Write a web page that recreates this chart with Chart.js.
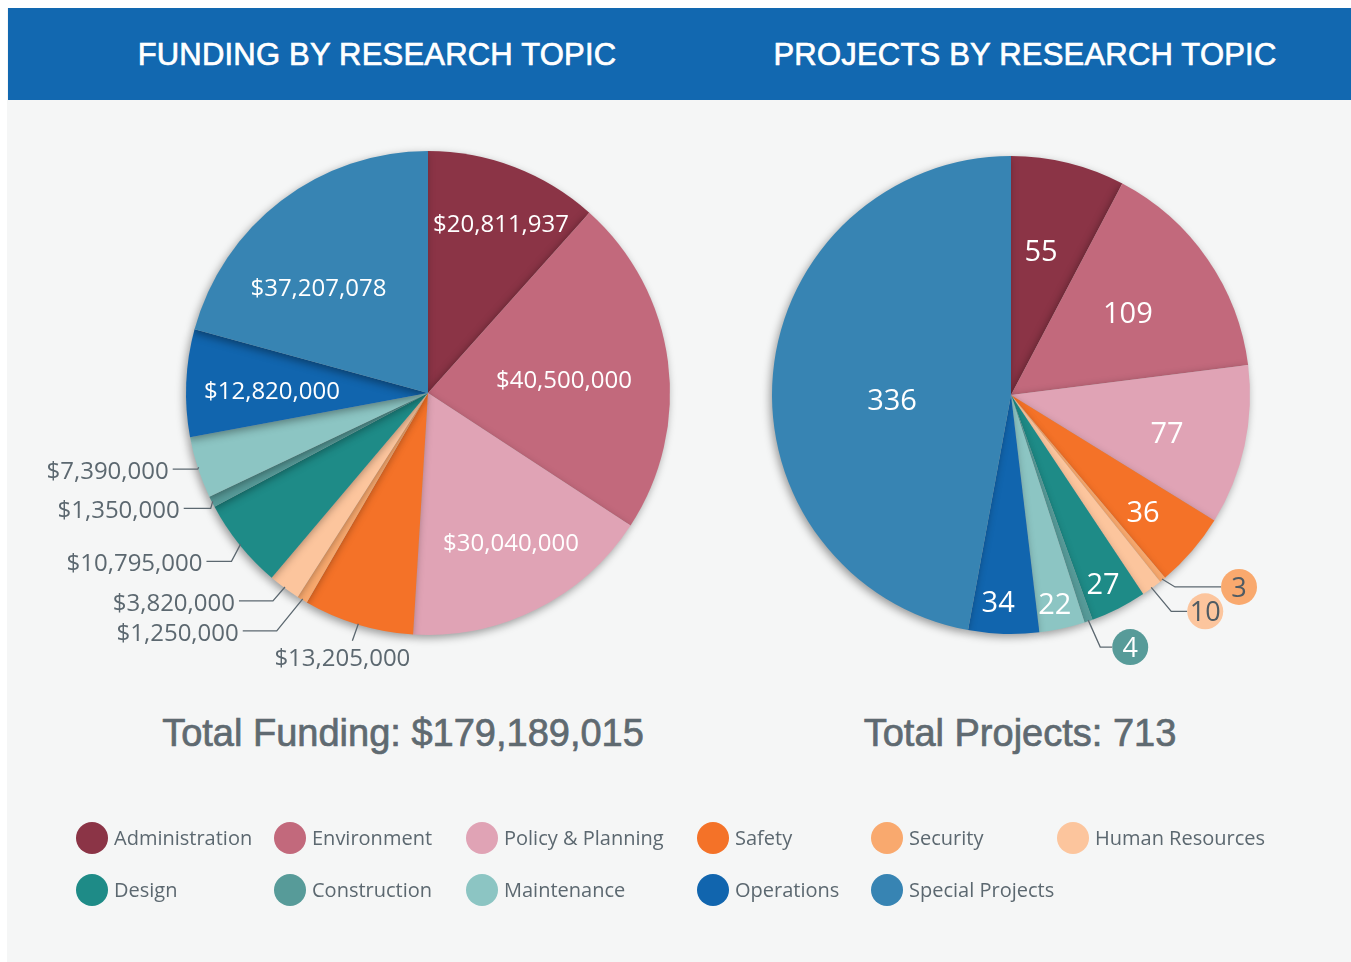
<!DOCTYPE html>
<html>
<head>
<meta charset="utf-8">
<script src="https://cdn.jsdelivr.net/npm/chart.js@4.4.1/dist/chart.umd.min.js"></script>
<style>
  body { margin: 0; background: #ffffff; width: 1351px; height: 962px; overflow: hidden; position: relative; }
  #frame { position: absolute; left: 7px; top: 8px; width: 1344px; height: 954px; background: #f5f6f6; }
  #header { position: absolute; left: 1px; top: 0; width: 1343px; height: 92px; background: #1268b0; }
  .title { position: absolute; top: 8px; height: 92px; line-height: 94px; color: #ffffff;
           font-family: "Liberation Sans", Arial, sans-serif; font-size: 31px; text-align: center;
           letter-spacing: 0.2px; -webkit-text-stroke: 0.7px #ffffff; }
  .total { position: absolute; top: 712px; color: #5f6a71; font-family: "Liberation Sans", Arial, sans-serif;
           font-size: 38px; text-align: center; -webkit-text-stroke: 0.7px #5f6a71; }
  canvas { position: absolute; left: 0; top: 0; }
  #legend { position: absolute; left: 76px; top: 822px; display: grid;
            grid-template-columns: 198px 192px 231px 174px 186px 260px; grid-auto-rows: 52px; }
  .item { display: flex; align-items: flex-start; font-family: "Open Sans", sans-serif; font-size: 20px; color: #5c6870; }
  .dot { width: 32px; height: 32px; border-radius: 50%; margin-right: 6px; flex: none; }
  .item span { line-height: 31px; }
</style>
</head>
<body>
<div id="frame">
  <div id="header"></div>
</div>
<div class="title" style="left:77px;width:600px;">FUNDING BY RESEARCH TOPIC</div>
<div class="title" style="left:725px;width:600px;">PROJECTS BY RESEARCH TOPIC</div>
<div class="total" id="totalFunding" style="left:103px;width:600px;"></div>
<div class="total" id="totalProjects" style="left:720px;width:600px;"></div>
<canvas id="fundingChart" width="1351" height="962"></canvas>
<canvas id="projectsChart" width="1351" height="962"></canvas>
<div id="legend"></div>

<script>
const categories = ['Administration', 'Environment', 'Policy & Planning', 'Safety', 'Security', 'Human Resources',
    'Design', 'Construction', 'Maintenance', 'Operations', 'Special Projects'];
const fundingValues = [20811937, 40500000, 30040000, 13205000, 1250000, 3820000,
    10795000, 1350000, 7390000, 12820000, 37207078];
const projectValues = [55, 109, 77, 36, 3, 10, 27, 4, 22, 34, 336];
const sliceColors = ['#8b3446', '#c2697c', '#e0a3b5', '#f47228', '#f9a96e', '#fcc59d',
    '#1e8b87', '#579b99', '#8cc5c3', '#1165ae', '#3784b3'];

// label placement per slice
// in: inside at a fraction r of the radius, a = angle nudge in degrees
// out / below / badge: leader line from the rim, bent by (ox, oy), then hl px sideways
const fundingLabels = [
    { type: 'in', r: 0.769, a: 2.2 }, { type: 'in', r: 0.565, a: 1.2 }, { type: 'in', r: 0.70, a: -2.7 },
    { type: 'below', ox: -6, oy: 17, dx: -10 },
    { type: 'out', ox: -26, oy: 32, hl: -34 }, { type: 'out', ox: -12, oy: 14, hl: -34 },
    { type: 'out', ox: -9, oy: 17, hl: -25 }, { type: 'out', ox: -2, oy: 7, hl: -27 },
    { type: 'out', ox: -1, oy: 2, hl: -25 },
    { type: 'in', r: 0.645, a: -0.9 }, { type: 'in', r: 0.632, a: -8.4 }
];
const projectLabels = [
    { type: 'in', r: 0.62, a: -2.2 }, { type: 'in', r: 0.60, a: -0.7 }, { type: 'in', r: 0.671, a: 1.1 },
    { type: 'in', r: 0.735, a: 0.5 },
    { type: 'badge', ox: 13, oy: 8, hl: 46, text: '#4f5b63' }, { type: 'badge', ox: 20, oy: 24, hl: 16, text: '#4f5b63' },
    { type: 'in', r: 0.876, a: 0.7 }, { type: 'badge', ox: 12, oy: 27, hl: 12, text: '#ffffff' },
    { type: 'in', r: 0.89, a: 0.5 }, { type: 'in', r: 0.864, a: 1.8 }, { type: 'in', r: 0.498, a: -7.2 }
];

function money(v) {
    return '$' + v.toLocaleString('en-US');
}

const shadowPlugin = {
    id: 'sliceShadow',
    beforeDatasetDraw(chart) {
        const ctx = chart.ctx;
        ctx.save();
        ctx.shadowColor = 'rgba(0,0,0,0.38)';
        ctx.shadowBlur = 9;
        ctx.shadowOffsetX = -2;
        ctx.shadowOffsetY = 3;
    },
    afterDatasetDraw(chart) {
        chart.ctx.restore();
    }
};

const labelPlugin = {
    id: 'sliceLabels',
    afterDatasetsDraw(chart, args, opts) {
        const ctx = chart.ctx;
        const meta = chart.getDatasetMeta(0);
        const values = chart.data.datasets[0].data;
        meta.data.forEach(function (arc, i) {
            const spec = opts.specs[i];
            const p = arc.getProps(['x', 'y', 'startAngle', 'endAngle', 'outerRadius'], true);
            const mid = (p.startAngle + p.endAngle) / 2;
            const text = opts.format(values[i]);
            ctx.save();
            ctx.textBaseline = 'middle';
            if (spec.type === 'in') {
                const ang = mid + spec.a * Math.PI / 180;
                const rr = p.outerRadius * spec.r;
                ctx.fillStyle = '#ffffff';
                ctx.font = opts.inFont;
                ctx.textAlign = 'center';
                ctx.fillText(text, p.x + Math.cos(ang) * rr, p.y + Math.sin(ang) * rr + 3);
            } else {
                const ex = p.x + Math.cos(mid) * (p.outerRadius - 1);
                const ey = p.y + Math.sin(mid) * (p.outerRadius - 1);
                const bx = ex + spec.ox, by = ey + spec.oy;
                ctx.strokeStyle = '#5c6870';
                ctx.lineWidth = 1.3;
                ctx.beginPath();
                ctx.moveTo(ex, ey);
                ctx.lineTo(bx, by);
                if (spec.type !== 'below') ctx.lineTo(bx + spec.hl, by);
                ctx.stroke();
                if (spec.type === 'out') {
                    ctx.fillStyle = '#5c6870';
                    ctx.font = opts.outFont;
                    ctx.textAlign = 'right';
                    ctx.fillText(text, bx + spec.hl - 4, by + 3);
                } else if (spec.type === 'below') {
                    ctx.fillStyle = '#5c6870';
                    ctx.font = opts.outFont;
                    ctx.textAlign = 'center';
                    ctx.fillText(text, bx + spec.dx, by + 18);
                } else {
                    const cx = bx + spec.hl + 18;
                    ctx.fillStyle = chart.data.datasets[0].backgroundColor[i];
                    ctx.beginPath();
                    ctx.arc(cx, by, 18, 0, Math.PI * 2);
                    ctx.fill();
                    ctx.fillStyle = spec.text;
                    ctx.font = opts.badgeFont;
                    ctx.textAlign = 'center';
                    ctx.fillText(text, cx, by + 2);
                }
            }
            ctx.restore();
        });
    }
};

function makePie(id, values, padding, radius, labelOpts) {
    return new Chart(document.getElementById(id), {
        type: 'pie',
        data: {
            labels: categories,
            datasets: [{
                data: values,
                backgroundColor: sliceColors,
                borderWidth: 0,
                hoverBorderWidth: 0,
                hoverOffset: 0
            }]
        },
        options: {
            responsive: false,
            animation: false,
            events: [],
            radius: radius,
            layout: { padding: padding },
            plugins: {
                legend: { display: false },
                tooltip: { enabled: false },
                sliceLabels: labelOpts
            }
        },
        plugins: [shadowPlugin, labelPlugin]
    });
}

makePie('fundingChart', fundingValues, { left: 186, top: 151, right: 681, bottom: 327 }, 242, {
    specs: fundingLabels,
    format: money,
    inFont: '24px "Open Sans"',
    outFont: '24px "Open Sans"',
    badgeFont: '24px "Open Sans"'
});

makePie('projectsChart', projectValues, { left: 772, top: 156, right: 101, bottom: 328 }, 239, {
    specs: projectLabels,
    format: function (v) { return String(v); },
    inFont: '29px "Open Sans"',
    outFont: '29px "Open Sans"',
    badgeFont: '27px "Open Sans"'
});

const sum = function (arr) { return arr.reduce(function (a, b) { return a + b; }, 0); };
document.getElementById('totalFunding').textContent = 'Total Funding: ' + money(sum(fundingValues));
document.getElementById('totalProjects').textContent = 'Total Projects: ' + sum(projectValues);

// Legend
const legend = document.getElementById('legend');
categories.forEach(function (name, i) {
    const item = document.createElement('div');
    item.className = 'item';
    const dot = document.createElement('div');
    dot.className = 'dot';
    dot.style.background = sliceColors[i];
    const label = document.createElement('span');
    label.textContent = name;
    item.appendChild(dot);
    item.appendChild(label);
    legend.appendChild(item);
});
</script>
</body>
</html>
